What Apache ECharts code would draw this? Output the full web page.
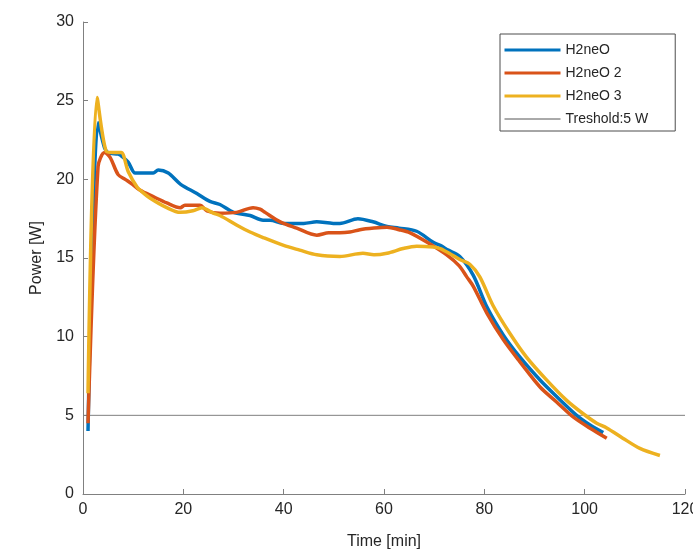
<!DOCTYPE html>
<html>
<head>
<meta charset="utf-8">
<script src="https://cdn.jsdelivr.net/npm/echarts@6/dist/echarts.min.js"></script>
<style>html,body{margin:0;padding:0;background:#fff;overflow:hidden}#c{width:693px;height:556px}</style>
</head>
<body>
<div id="c"></div>
<script>
const xTicks = [0, 20, 40, 60, 80, 100, 120];
const yTicks = [0, 5, 10, 15, 20, 25, 30];

const t1 = [1, 3, 4.3, 5, 7, 7.6, 9, 10.4, 12, 14, 15, 17, 19.4, 22.7, 25.3, 27.3, 30, 33.3, 35.9, 37.3, 40, 42.6, 44, 46.6, 49.9, 51.2, 54.8, 57.8, 60.6, 63, 66.5, 69.8, 71.2, 72.8, 75.1, 77.8, 80.5, 83.8, 87.1, 91.1, 94.4, 98.4, 101, 103.7];
const p1 = [4.0, 23.6, 22.0, 21.7, 21.6, 21.5, 21.1, 20.4, 20.4, 20.4, 20.6, 20.4, 19.7, 19.1, 18.6, 18.4, 17.9, 17.7, 17.4, 17.4, 17.2, 17.2, 17.2, 17.3, 17.2, 17.2, 17.5, 17.3, 17.0, 16.9, 16.7, 16.0, 15.8, 15.5, 15.1, 13.9, 11.9, 10.1, 8.7, 7.25, 6.2, 5.0, 4.4, 3.9];

const t2 = [1, 3, 4.3, 5.4, 7, 8.4, 9.8, 11.4, 14, 16.7, 19.4, 20.3, 23.3, 24.7, 27.3, 30.6, 33.9, 35.3, 36.3, 39.3, 42.6, 46.6, 49, 51.2, 53.2, 55.2, 58, 60.6, 63, 65.2, 68.6, 72.5, 75, 76.5, 77.8, 80.5, 83.8, 87.1, 91.1, 94.4, 97.7, 101, 104.4];
const p2 = [4.5, 20.8, 21.7, 21.4, 20.3, 20.0, 19.7, 19.3, 18.9, 18.5, 18.2, 18.35, 18.35, 18.0, 17.85, 17.9, 18.2, 18.1, 17.9, 17.3, 16.9, 16.45, 16.6, 16.6, 16.65, 16.8, 16.9, 16.95, 16.8, 16.6, 16.0, 15.2, 14.5, 13.8, 13.2, 11.5, 9.8, 8.4, 6.8, 5.85, 4.9, 4.2, 3.55];

const t3 = [1, 2.8, 4.6, 6, 7.6, 9, 10.8, 11.8, 13.4, 16.7, 19.4, 21.9, 23.7, 26, 27.3, 30.6, 33.3, 35.9, 40, 43.2, 46.6, 51.2, 55.8, 58, 60.6, 63.8, 66.5, 69.8, 71.2, 73, 75.1, 77.1, 79.1, 81.7, 85.1, 88.4, 92.4, 96.4, 99.7, 102.4, 104.4, 107.6, 111, 115];
const p3 = [6.4, 25.2, 21.8, 21.7, 21.7, 20.5, 19.5, 19.2, 18.8, 18.2, 17.9, 18.0, 18.2, 17.85, 17.7, 17.1, 16.65, 16.3, 15.8, 15.5, 15.2, 15.1, 15.3, 15.2, 15.3, 15.6, 15.75, 15.7, 15.6, 15.3, 14.9, 14.6, 13.8, 12.0, 10.2, 8.7, 7.25, 5.95, 5.1, 4.5, 4.2, 3.55, 2.9, 2.45];

const thrX = [0, 120];
const thrY = [5, 5];

const names = ['H2neO', 'H2neO 2', 'H2neO 3', 'Treshold:5 W'];
const colors = ['#0072BD', '#D95319', '#EDB120', '#808080'];

function zip(a, b) { return a.map((v, i) => [v, b[i]]); }

const font = 'Liberation Sans, Arial, sans-serif';
const chart = echarts.init(document.getElementById('c'));
chart.setOption({
  animation: false,
  backgroundColor: '#fff',
  grid: { left: 83, right: 8, top: 22, bottom: 62, containLabel: false, outerBoundsMode: 'none' },
  legend: {
    show: true,
    orient: 'vertical',
    left: 500, top: 34,
    backgroundColor: '#fff',
    borderColor: '#4d4d4d',
    borderWidth: 1,
    padding: [9, 27, 5, 3],
    itemWidth: 56,
    itemHeight: 12,
    itemGap: 9,
    itemStyle: { opacity: 0 },
    textStyle: { fontFamily: font, fontSize: 14, color: '#262626' },
    data: names.map((n, i) => ({ name: n, lineStyle: i < 3 ? { width: 3 } : { width: 1, color: '#555555' } }))
  },
  xAxis: {
    type: 'value', min: 0, max: 120, interval: 20,
    name: 'Time [min]', nameLocation: 'middle', nameGap: 40,
    nameTextStyle: { fontFamily: font, fontSize: 16, color: '#262626' },
    axisLine: { onZero: false, lineStyle: { color: '#808080', width: 1 } },
    axisTick: { inside: true, length: 5, lineStyle: { color: '#808080' } },
    axisLabel: { fontFamily: font, fontSize: 16, color: '#262626', margin: 8, formatter: v => xTicks.includes(v) ? String(v) : '' },
    splitLine: { show: false }
  },
  yAxis: {
    type: 'value', min: 0, max: 30, interval: 5,
    name: 'Power [W]', nameLocation: 'middle', nameGap: 38, nameRotate: 90,
    nameTextStyle: { fontFamily: font, fontSize: 16, color: '#262626' },
    axisLine: { show: true, onZero: false, lineStyle: { color: '#808080', width: 1 } },
    axisTick: { show: true, inside: true, length: 5, lineStyle: { color: '#808080' } },
    axisLabel: { fontFamily: font, fontSize: 16, color: '#262626', margin: 9, formatter: v => yTicks.includes(v) ? String(v) : '' },
    splitLine: { show: false }
  },
  series: [
    { name: names[0], type: 'line', data: zip(t1, p1), symbol: 'none', smooth: 0.3, lineStyle: { color: colors[0], width: 3.5 }, itemStyle: { color: colors[0] }, z: 3 },
    { name: names[1], type: 'line', data: zip(t2, p2), symbol: 'none', smooth: 0.3, lineStyle: { color: colors[1], width: 3.5 }, itemStyle: { color: colors[1] }, z: 4 },
    { name: names[2], type: 'line', data: zip(t3, p3), symbol: 'none', smooth: 0.3, lineStyle: { color: colors[2], width: 3.5 }, itemStyle: { color: colors[2] }, z: 5 },
    { name: names[3], type: 'line', data: zip(thrX, thrY), symbol: 'none', lineStyle: { color: colors[3], width: 1 }, itemStyle: { color: colors[3] }, z: 2 }
  ]
});
</script>
</body>
</html>
